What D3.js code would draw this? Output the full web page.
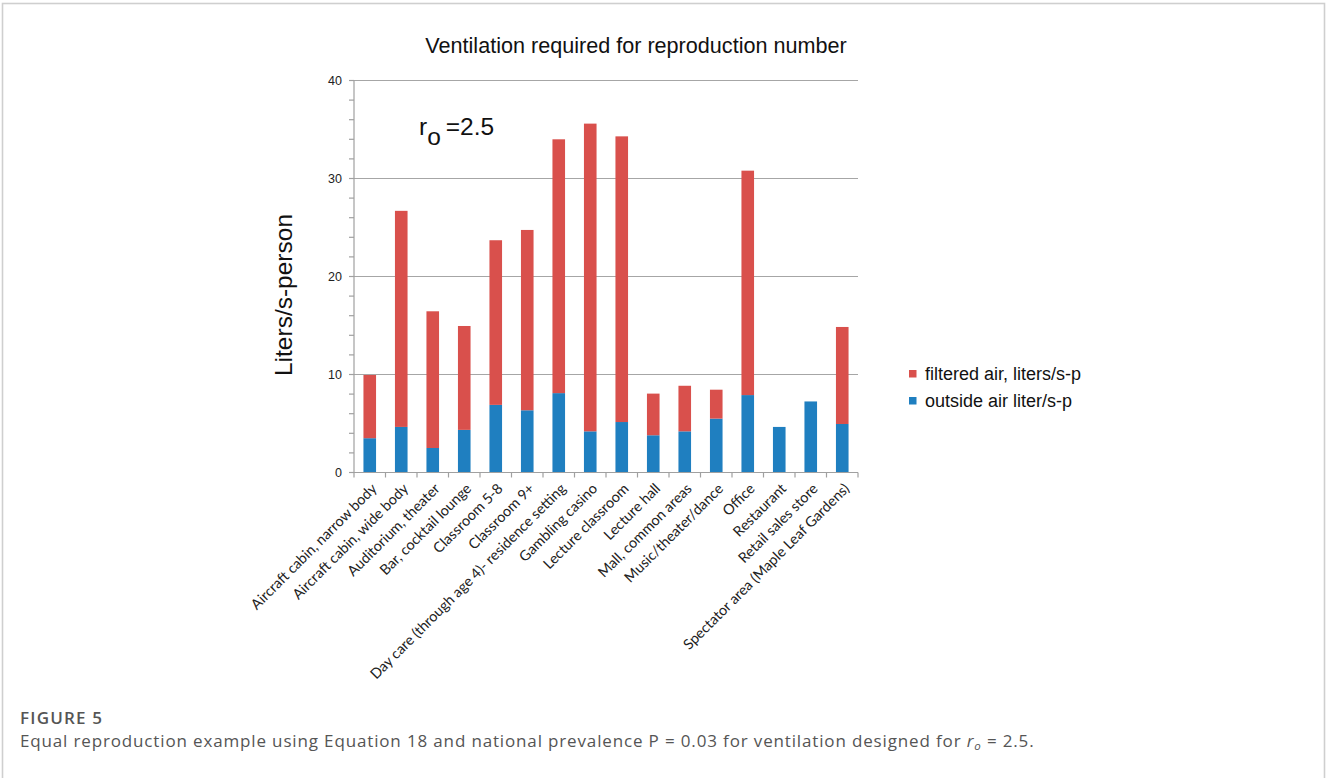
<!DOCTYPE html>
<html>
<head>
<meta charset="utf-8">
<script src="https://cdn.jsdelivr.net/npm/d3@7"></script>
<style>
  html, body { margin: 0; padding: 0; background: #fff; }
  svg { display: block; }
</style>
</head>
<body>
<svg id="chart" width="1328" height="778"></svg>
<script>
const categories = [
  "Aircraft cabin, narrow body",
  "Aircraft cabin, wide body",
  "Auditorium, theater",
  "Bar, cocktail lounge",
  "Classroom 5-8",
  "Classroom 9+",
  "Day care (through age 4)- residence setting",
  "Gambling casino",
  "Lecture classroom",
  "Lecture hall",
  "Mall, common areas",
  "Music/theater/dance",
  "Office",
  "Restaurant",
  "Retail sales store",
  "Spectator area (Maple Leaf Gardens)"
];
const outsideAir = [3.5, 4.65, 2.5, 4.35, 6.9, 6.35, 8.1, 4.2, 5.15, 3.8, 4.2, 5.5, 7.9, 4.65, 7.25, 4.95];
const totalAir   = [9.95, 26.7, 16.45, 14.95, 23.7, 24.75, 34.0, 35.6, 34.3, 8.05, 8.85, 8.45, 30.8, 4.65, 7.25, 14.85];
const filteredAir = totalAir.map((t, i) => +(t - outsideAir[i]).toFixed(2));
const yTicks = [0, 10, 20, 30, 40];
const yMinorTicks = d3.range(0, 41, 2);
const seriesNames = ["filtered air, liters/s-p", "outside air liter/s-p"];
const seriesKeys = ["filtered", "outside"];
const seriesColors = { filtered: "#d9504c", outside: "#1f7fc0" };

const svg = d3.select("#chart");

// figure frame
svg.append("rect")
  .attr("x", 2.5).attr("y", 3.5).attr("width", 1322).attr("height", 800)
  .attr("fill", "none").attr("stroke", "#cfcfcf").attr("stroke-width", 1.6);

const x = d3.scaleBand().domain(categories).range([354, 858]).paddingInner(0.6).paddingOuter(0.3);
const y = d3.scaleLinear().domain([0, 40]).range([472.5, 80.5]);

// gridlines
svg.append("g").selectAll("line").data(yTicks.filter(d => d > 0)).join("line")
  .attr("x1", 354).attr("x2", 858)
  .attr("y1", d => y(d)).attr("y2", d => y(d))
  .attr("stroke", "#a6a6a6").attr("stroke-width", 1.2);

// stacked bars
const rows = categories.map((c, i) => ({ cat: c, outside: outsideAir[i], filtered: filteredAir[i] }));
const stack = d3.stack().keys(["outside", "filtered"]);
const stacked = stack(rows);
svg.append("g").selectAll("g").data(stacked).join("g")
  .attr("fill", d => seriesColors[d.key])
  .selectAll("rect").data(d => d).join("rect")
  .attr("x", d => x(d.data.cat))
  .attr("width", x.bandwidth())
  .attr("y", d => y(d[1]))
  .attr("height", d => Math.max(0, y(d[0]) - y(d[1])));

// y axis
const yAxisG = svg.append("g");
yAxisG.append("line").attr("x1", 354).attr("x2", 354).attr("y1", y(40)).attr("y2", y(0))
  .attr("stroke", "#a0a0a0").attr("stroke-width", 1.2);
yAxisG.selectAll("line.minor").data(yMinorTicks).join("line").attr("class", "minor")
  .attr("x1", 349).attr("x2", 354).attr("y1", d => y(d)).attr("y2", d => y(d))
  .attr("stroke", "#a0a0a0").attr("stroke-width", 1.2);
yAxisG.selectAll("text").data(yTicks).join("text")
  .attr("x", 342).attr("y", d => y(d)).attr("dy", "0.35em")
  .attr("text-anchor", "end")
  .attr("font-family", "Liberation Sans, Arial, sans-serif").attr("font-size", 12.5)
  .attr("fill", "#222")
  .text(d => d);

// x axis
const xAxisG = svg.append("g");
xAxisG.append("line").attr("x1", 354).attr("x2", 858).attr("y1", y(0)).attr("y2", y(0))
  .attr("stroke", "#a0a0a0").attr("stroke-width", 1.2);
const boundaries = d3.range(categories.length + 1).map(i => 354 + i * x.step());
xAxisG.selectAll("line.tick").data(boundaries).join("line").attr("class", "tick")
  .attr("x1", d => d).attr("x2", d => d).attr("y1", y(0)).attr("y2", y(0) + 5)
  .attr("stroke", "#a0a0a0").attr("stroke-width", 1.2);
xAxisG.selectAll("text").data(categories).join("text")
  .attr("transform", d => `translate(${x(d) + x.bandwidth() / 2 + 8},${y(0) + 17}) rotate(-45)`)
  .attr("text-anchor", "end")
  .attr("font-family", "Lato, 'Open Sans', sans-serif").attr("font-size", 14.4)
  .attr("fill", "#222")
  .text(d => d);

// title
svg.append("text").attr("x", 636).attr("y", 53).attr("text-anchor", "middle")
  .attr("font-family", "Liberation Sans, Arial, sans-serif").attr("font-size", 21.6)
  .attr("fill", "#111").text("Ventilation required for reproduction number");

// y label
svg.append("text").attr("transform", "translate(292,295) rotate(-90)")
  .attr("text-anchor", "middle")
  .attr("font-family", "Liberation Sans, Arial, sans-serif").attr("font-size", 24.5)
  .attr("fill", "#111").text("Liters/s-person");

// r_o annotation
const ro = svg.append("text").attr("x", 419).attr("y", 135)
  .attr("font-family", "Liberation Sans, Arial, sans-serif").attr("font-size", 24.5).attr("fill", "#111");
ro.append("tspan").text("r");
ro.append("tspan").attr("dy", 10).text("o");
ro.append("tspan").attr("dy", -10).attr("dx", 5).text("=2.5");

// legend
const legend = svg.append("g");
seriesKeys.forEach((k, i) => {
  legend.append("rect").attr("x", 909).attr("y", 370 + i * 27).attr("width", 7.5).attr("height", 7.5)
    .attr("fill", seriesColors[k]);
  legend.append("text").attr("x", 925).attr("y", 380 + i * 27)
    .attr("font-family", "Liberation Sans, Arial, sans-serif").attr("font-size", 18)
    .attr("fill", "#111").text(seriesNames[i]);
});

// caption
svg.append("text").attr("x", 20).attr("y", 724)
  .attr("font-family", "'Open Sans', 'Noto Sans', sans-serif").attr("font-size", 17)
  .attr("font-weight", 600).attr("letter-spacing", 1.2).attr("fill", "#555").text("FIGURE 5");
const cap = svg.append("text").attr("x", 20).attr("y", 747)
  .attr("font-family", "'Open Sans', 'Noto Sans', sans-serif").attr("font-size", 17)
  .attr("letter-spacing", 0.85)
  .attr("fill", "#555");
cap.append("tspan").text("Equal reproduction example using Equation 18 and national prevalence P = 0.03 for ventilation designed for ");
cap.append("tspan").attr("font-style", "italic").text("r");
cap.append("tspan").attr("font-style", "italic").attr("font-size", 11.5).attr("dy", 3).text("o");
cap.append("tspan").attr("dy", -3).text(" = 2.5.");
</script>
</body>
</html>
